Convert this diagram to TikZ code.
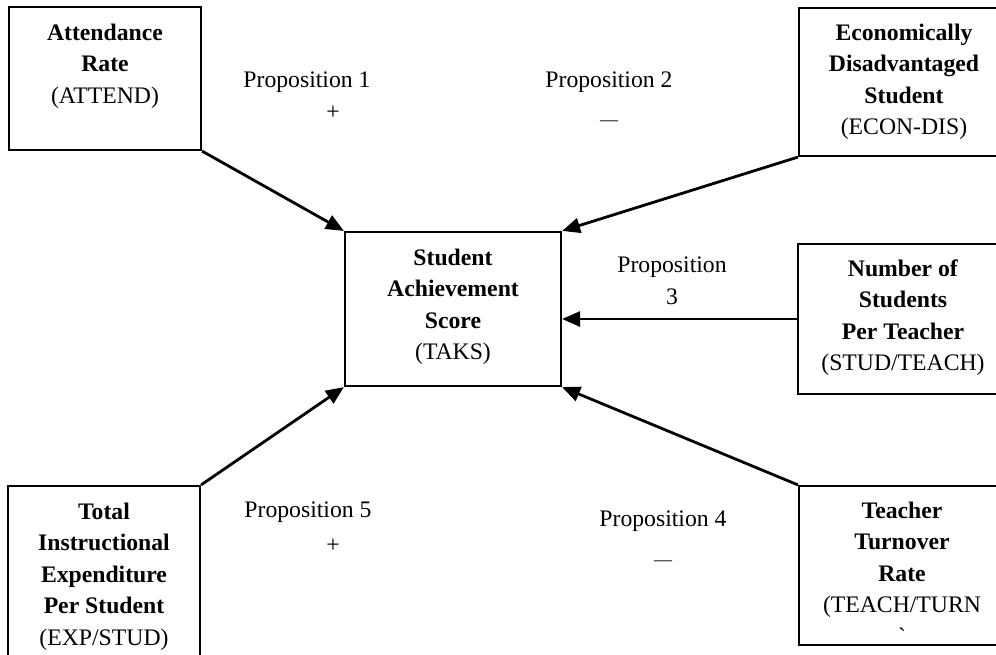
\documentclass[tikz,border=0pt]{standalone}
\usepackage{fontspec}
\setmainfont{Liberation Serif}
\usetikzlibrary{arrows.meta}
\begin{document}
\begin{tikzpicture}[x=1pt,y=-1pt,
  box/.style={draw, line width=2.2pt, inner sep=0pt},
  lbl/.style={font=\fontsize{23.7}{31.5}\selectfont, align=center, anchor=base, inner sep=0pt},
  sign/.style={font=\fontsize{23.7}{28}\selectfont, anchor=center, inner sep=0pt},
  dsh/.style={font=\fontsize{18}{20}\selectfont, anchor=center, inner sep=0pt},
  link/.style={line width=2.8pt, -{Triangle[length=18pt,width=15pt]}}]
\useasboundingbox (0,0) rectangle (996,654);
\clip (0,0) rectangle (996,654);
% boxes
\node[box, minimum width=192pt, minimum height=143pt] (attend) at (105,78.5) {};
\node[box, minimum width=211pt, minimum height=148pt] (econ) at (904.5,82) {};
\node[box, minimum width=212pt, minimum height=150pt] (stud) at (904,319) {};
\node[box, minimum width=216pt, minimum height=154pt] (ctr) at (453,309) {};
\node[box, minimum width=211pt, minimum height=159pt] (teach) at (904.5,565.5) {};
\node[box, minimum width=192pt, minimum height=184pt] (total) at (104,578) {};
% box texts (anchor = baseline of the last line)
\node[lbl] (attendT) at (105,103) {\textbf{Attendance}\\\textbf{Rate}\\(ATTEND)};
\node[lbl] (econT) at (904,134.5) {\textbf{Economically}\\\textbf{Disadvantaged}\\\textbf{Student}\\(ECON-DIS)};
\node[lbl] (studT) at (903,370.5) {\textbf{Number of}\\\textbf{Students}\\\textbf{Per Teacher}\\(STUD/TEACH)};
\node[lbl] (ctrT) at (453,359.5) {\textbf{Student}\\\textbf{Achievement}\\\textbf{Score}\\(TAKS)};
\node[lbl] (teachT) at (902,644) {\textbf{Teacher}\\\textbf{Turnover}\\\textbf{Rate}\\(TEACH/TURN\\\textasciigrave};
\node[lbl] (totalT) at (104,645) {\textbf{Total}\\\textbf{Instructional}\\\textbf{Expenditure}\\\textbf{Per Student}\\(EXP/STUD)};
% proposition labels
\node[lbl] (p1) at (307,87) {Proposition 1};
\node[sign] (p1s) at (333,113) {+};
\node[lbl] (p2) at (609,87) {Proposition 2};
\node[dsh] (p2s) at (609,123) {—};
\node[lbl] (p3) at (672,304) {Proposition\\3};
\node[lbl] (p4) at (663,526) {Proposition 4};
\node[dsh] (p4s) at (663,563) {—};
\node[lbl] (p5) at (308,517) {Proposition 5};
\node[sign] (p5s) at (333,546) {+};
% connectors
\draw[link] (attend.south east) -- (ctr.north west);
\draw[link] (econ.south west) -- (ctr.north east);
\draw[link] (stud.west) -- (ctr.east |- stud.west);
\draw[link] (teach.north west) -- (ctr.south east);
\draw[link] (total.north east) -- (ctr.south west);
\end{tikzpicture}
\end{document}
